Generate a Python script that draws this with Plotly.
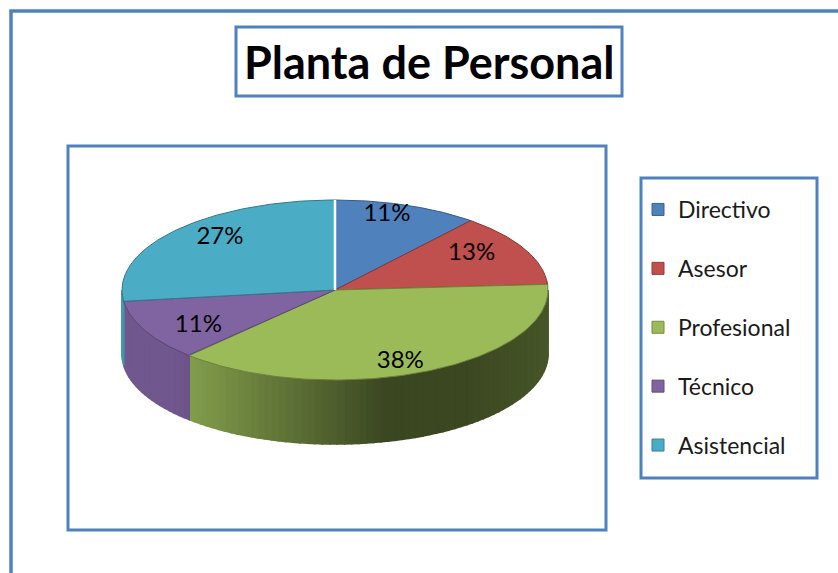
import numpy as np
import plotly.graph_objects as go

# ---------------- data ----------------
categories = ["Directivo", "Asesor", "Profesional", "Técnico", "Asistencial"]
values = [11, 13, 38, 11, 27]
title_text = "Planta de Personal"

# ---------------- styles ----------------
colors = ["#4F81BD", "#C0504D", "#9BBB59", "#8064A2", "#4BACC6"]
FRAME = "#4F81BD"
W, H = 838, 573
CX, CY, RX, RY, DEPTH = 335, 290, 213, 90, 64
FONT = "Lato"


def hex2rgb(h):
    h = h.lstrip("#")
    return [int(h[i:i + 2], 16) for i in (0, 2, 4)]


def shade(h, f):
    r, g, b = hex2rgb(h)
    return "rgb(%d,%d,%d)" % (int(r * f), int(g * f), int(b * f))


def pt(theta_deg, r=1.0):
    t = np.radians(theta_deg)
    return CX + RX * r * np.sin(t), CY - RY * r * np.cos(t)


total = float(sum(values))
cum = np.concatenate([[0.0], np.cumsum(values)]) / total * 360.0
pct = ["%d%%" % round(v / total * 100) for v in values]

fig = go.Figure()

# side faces (front half only: 90..270 deg clockwise from top)
for i, c in enumerate(colors):
    a0, a1 = cum[i], cum[i + 1]
    s0, s1 = max(a0, 90.0), min(a1, 270.0)
    if s1 <= s0:
        continue
    n = max(2, int(np.ceil((s1 - s0) / 2.0)))
    edges = np.linspace(s0, s1, n + 1)
    for k in range(n):
        ts = np.linspace(edges[k], edges[k + 1], 4)
        xs, ys = pt(ts)
        mx = float(np.mean(xs))
        frac = (mx - (CX - RX)) / (2 * RX)
        f = 0.88 - 0.50 * min(1.0, max(0.0, (frac - 0.12) / 0.5)) \
            + 0.08 * max(0.0, (frac - 0.8) / 0.2)
        col = shade(c, f)
        px = np.concatenate([xs, xs[::-1], [xs[0]]])
        py = np.concatenate([ys, ys[::-1] + DEPTH, [ys[0]]])
        fig.add_trace(go.Scatter(
            x=px, y=py, mode="lines", fill="toself", fillcolor=col,
            line=dict(color=col, width=1.6), hoverinfo="skip",
            showlegend=False, legendgroup=categories[i]))

# top faces
for i, c in enumerate(colors):
    ts = np.linspace(cum[i], cum[i + 1], 120)
    xs, ys = pt(ts)
    px = np.concatenate([[CX], xs, [CX]])
    py = np.concatenate([[CY], ys, [CY]])
    fig.add_trace(go.Scatter(
        x=px, y=py, mode="lines", fill="toself", fillcolor=c,
        line=dict(color=shade(c, 0.7), width=1),
        hoveron="fills", name=categories[i],
        text="%s: %s" % (categories[i], pct[i]), hoverinfo="text",
        showlegend=False, legendgroup=categories[i]))

# white separator at 12 o'clock
xt, yt = pt(np.array([0.0]))
fig.add_trace(go.Scatter(x=[CX, xt[0]], y=[CY, yt[0]], mode="lines",
                         line=dict(color="white", width=2.5),
                         hoverinfo="skip", showlegend=False))

# labels
mids = (cum[:-1] + cum[1:]) / 2.0
lx = CX + RX * 0.72 * np.sin(np.radians(mids))
ly = CY - RY * 0.88 * np.cos(np.radians(mids))
fig.add_trace(go.Scatter(x=lx, y=ly, mode="text", text=pct,
                         textfont=dict(family=FONT, size=24, color="black"),
                         hoverinfo="skip", showlegend=False))

# legend entries
for i, c in enumerate(colors):
    fig.add_trace(go.Scatter(
        x=[None], y=[None], mode="markers", name=categories[i],
        legendgroup=categories[i],
        marker=dict(symbol="square", size=12, color=c,
                    line=dict(color=shade(c, 0.75), width=1))))

shapes = [
    dict(type="rect", x0=11, y0=11, x1=W + 40, y1=H + 40,
         line=dict(color=FRAME, width=3.5)),
    dict(type="rect", x0=236, y0=27, x1=622, y1=96,
         line=dict(color=FRAME, width=3)),
    dict(type="rect", x0=68, y0=146, x1=606, y1=530,
         line=dict(color=FRAME, width=3)),
    dict(type="rect", x0=641, y0=178, x1=817, y1=478,
         line=dict(color=FRAME, width=3)),
]
for s in shapes:
    s.update(xref="x", yref="y", layer="below", fillcolor="rgba(0,0,0,0)")

fig.update_layout(
    width=W, height=H,
    margin=dict(l=0, r=0, t=0, b=0),
    paper_bgcolor="white", plot_bgcolor="white",
    xaxis=dict(range=[0, W], visible=False, fixedrange=True),
    yaxis=dict(range=[H, 0], visible=False, fixedrange=True),
    shapes=shapes,
    annotations=[dict(x=429, y=62, xref="x", yref="y", text=title_text,
                      showarrow=False,
                      font=dict(family=FONT, size=45, color="black", weight="bold"))],
    legend=dict(x=638 / W, y=1 - 188 / H, xanchor="left", yanchor="top",
                font=dict(family=FONT, size=23, color="#1a1a1a"),
                bgcolor="rgba(0,0,0,0)", borderwidth=0, tracegroupgap=26,
                itemclick=False, itemdoubleclick=False),
    showlegend=True,
)

fig.write_html("out.html", config={"displayModeBar": False},
               post_script="document.body.style.margin='0';")
